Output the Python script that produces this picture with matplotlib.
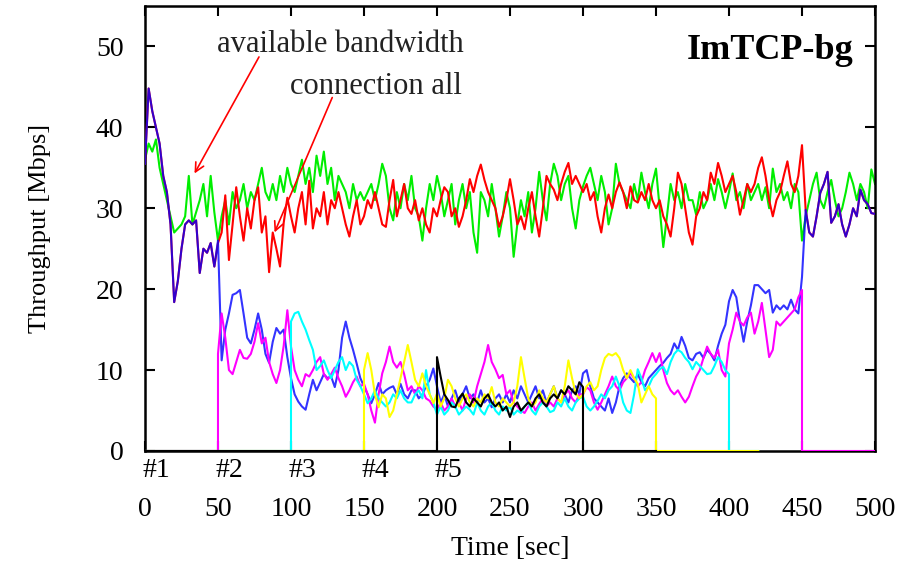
import numpy as np
import matplotlib
matplotlib.use("Agg")
import matplotlib.pyplot as plt
import matplotlib.transforms as mtransforms

plt.rcParams['font.family'] = ['Liberation Serif', 'DejaVu Serif']

STEP = 2.5

# available bandwidth, t = 0 .. 500
avail_bw = [
    36, 38, 37, 38.5, 35, 33, 31, 29, 27, 27.5, 28, 29, 34, 28, 29.5, 31, 33, 29, 34, 29.5,
    26, 29, 31, 28, 32, 30, 31, 33, 30, 32, 31, 33, 35, 32, 31, 33, 31, 34, 32, 35,
    33, 32, 34, 36, 33, 35, 32, 36.5, 34, 37, 33, 35, 31, 34, 33, 32, 30, 33, 31, 32,
    31, 32, 33, 31, 33, 35.5, 34, 30, 28.5, 32, 30, 33, 31, 34, 30, 29, 26, 30, 33, 31,
    34, 32, 29, 31, 33, 28, 31, 33, 30, 32, 27, 24.5, 32, 31, 29, 33, 30, 26.5, 29, 32,
    30, 24, 28, 31, 29, 32, 27, 30, 34.5, 31, 28.5, 33, 35.5, 34, 31, 33, 34, 30, 27.5, 31,
    32.7, 34, 35, 33, 31, 34, 32, 28, 30, 35.5, 33, 32, 31, 30, 33, 31, 34.4, 32, 30, 33,
    34.9, 30, 25.2, 29, 33, 31, 32, 30, 33, 31, 31, 29.2, 32, 30, 31, 33, 31, 33.6, 32, 30,
    32, 34.3, 31, 32, 30, 33, 31, 32, 33, 31, 32.6, 30, 34.9, 32, 33, 31, 32, 30, 33, 32,
    26, 29, 31, 33, 34.4, 31, 30, 32, 33.5, 31, 29, 30, 32, 34.4, 33, 31, 33, 32, 30, 34.8,
    33,
]

# connection all, t = 50 .. 450 (outside that range it equals flow #1)
conn_all = [
    25.7, 27, 31.6, 23.6, 28, 32.6, 29, 26, 30, 27.5, 31, 32.6, 27, 29, 22.1, 27, 25, 22.8, 28.2, 31.3,
    29, 27, 30, 32, 28, 33.4, 27.5, 30, 29, 32, 28, 31, 30, 32, 30, 28, 26.5, 29, 31, 28,
    29, 31, 30, 32, 30, 28, 27.7, 31, 33.5, 29, 31, 33, 30, 29.3, 31, 28.5, 30, 28, 27, 30,
    29, 31, 32.6, 32, 29, 30, 27.7, 29, 31, 33.6, 32, 34, 35.4, 33.5, 32, 31, 30, 27.7, 29, 31,
    33.6, 31, 28, 29, 27.4, 30, 32, 29, 26.5, 30, 34, 33, 32.3, 31, 33, 34.5, 35.6, 33, 34, 33,
    32, 33, 31, 32, 29, 27, 30, 31.7, 30, 32, 33.2, 32, 30, 32.7, 31, 30.7, 32, 31, 33, 31,
    30, 31, 29, 28, 26.5, 30, 34.4, 33, 30, 27, 25.5, 29, 30, 32, 31, 34.4, 33, 35.6, 34, 32,
    33, 34, 32, 29.2, 31, 33, 32, 33, 35, 36.3, 34, 31, 29, 31, 32, 34, 35.8, 33, 32, 34,
    37.8,
]

# flow #1, t = 0 .. 500
flow1 = [
    35.5, 44.8, 42, 40, 38, 34, 32, 28, 18.4, 21, 25, 28, 28.5, 28, 28.5, 22, 25, 24.5, 25.7, 22.8,
    26, 11.2, 15, 17, 19.3, 19.5, 19.9, 17, 14, 13.3, 15, 17, 15, 12, 10.9, 13.5, 15.2, 14.5, 15, 11.6,
    9, 7, 6.1, 5.5, 5.1, 7, 8.8, 7.5, 8.5, 9.5, 9, 9.2, 7.9, 10, 14, 16, 14, 12.5, 10.8, 9,
    8, 7, 5.9, 7, 8.4, 7, 7.5, 7.8, 8, 7, 8.3, 7, 6.5, 7.5, 7.5, 6.5, 7, 8, 8.8, 10.2,
    8, 6, 7, 5.5, 6.5, 7.5, 6, 7, 8, 6.5, 7, 6, 7.5, 6, 6.5, 5.4, 6.5, 7, 6, 7,
    6, 7.5, 6.5, 8, 7, 6, 7, 8, 6.5, 7.5, 6, 7, 8, 6.5, 7.5, 7, 6, 7.5, 8, 7,
    9.6, 10, 8, 6.5, 6, 5.5, 5, 6.5, 4.7, 6, 8, 9, 9.6, 9, 8.5, 9.5, 8.5, 8, 9, 9.5,
    10, 10.5, 10.9, 11.5, 12, 13.3, 12.5, 14.1, 13, 11.5, 11.2, 12, 12.2, 11.5, 12.5, 12, 11.2, 13, 14.5, 15.6,
    18.5, 19.9, 19, 16, 13.5, 16, 18, 20.5, 20.5, 20, 19.5, 19.9, 17.1, 18, 17.5, 18, 17.5, 18.7, 17.5, 17,
    21.5, 29.8, 27, 26.5, 29, 31.9, 33, 34.5, 28.2, 29, 30.5, 28, 26.5, 28, 30, 29, 32.3, 31, 30.5, 29.4,
    29.3,
]

# flow #2, t = 50 .. 450
flow2 = [
    12, 17, 14, 10, 9.5, 11, 12.5, 11.5, 11.4, 12, 13.5, 15.8, 13.3, 14, 11, 9.5, 8.4, 10, 13, 17.4,
    12.9, 10, 8.8, 8, 9.5, 9.2, 10, 11, 11.6, 9.5, 8.8, 9.5, 10.3, 9, 8, 6.7, 7.5, 8.5, 9.2, 8,
    8.3, 7, 5, 3.5, 7, 9.6, 11, 12.9, 11, 10.3, 11, 9.5, 7.5, 8, 7, 8, 7.5, 6.5, 6.2, 5.5,
    5.1, 6, 5, 5.5, 6.5, 5.5, 6, 5, 6.5, 7, 6, 8, 9.5, 11, 13.1, 11, 10.1, 9, 9.4, 7,
    7.5, 6, 5.5, 5, 4.7, 5.5, 6, 5, 5.8, 6.5, 5.5, 6, 5.5, 6.5, 6, 7, 7.5, 6.5, 6, 7,
    7, 7.9, 7.5, 6, 5.1, 6, 7, 8, 9.2, 8, 7.5, 8.5, 9, 9.6, 9, 8, 8.5, 10, 11, 12.1,
    11, 12.1, 10, 8.4, 7.5, 7, 7.5, 6.7, 6, 6.7, 8, 9.2, 10, 11.5, 12.9, 12, 11.5, 12.5, 10, 9.2,
    13.3, 15, 17.1, 16, 15.5, 16.5, 17.1, 14.5, 16, 18.3, 15, 11.6, 12.5, 16, 15.5, 16, 16.5, 17, 17.5, 19,
    19.9,
]

# flow #3, t = 100 .. 400
flow3 = [
    16, 17, 17.2, 16, 15, 13.7, 12.5, 10, 10.5, 11.2, 10, 9, 10, 11, 11.6, 10, 11, 10.5, 8.8, 8,
    7, 5.9, 6.5, 7.5, 6.5, 6, 5.5, 6, 7, 6.5, 7.5, 6.5, 6, 6, 7, 7.5, 6.5, 10, 7, 6,
    4.5, 5.5, 4.5, 5, 6, 5.5, 4.5, 5, 5.5, 5.1, 4.5, 6, 5, 4.5, 5.5, 6, 5, 4.5, 5.5, 5,
    5.5, 4.5, 5, 4.7, 5.5, 6, 5, 4.5, 5.5, 6, 5.5, 4.8, 5, 6, 5.5, 6.5, 5.5, 5, 6, 6.5,
    6.7, 5.5, 5, 5.5, 6.2, 7, 6.5, 7.5, 8, 9.2, 8, 6, 5, 4.7, 7, 10.1, 9, 7.5, 8, 9,
    9.5, 10.1, 10.4, 9.5, 11, 12, 12.5, 12.2, 11.5, 11, 10.1, 11, 10.5, 10, 9.5, 9.6, 10.5, 11.6, 11, 10,
    9.5,
]

# flow #4, t = 150 .. 350
flow4 = [
    10, 12.1, 10, 7, 5.4, 7, 6.5, 4.2, 5, 7, 9, 11, 13.1, 11, 8.8, 8, 9.6, 8, 7, 5.9,
    7.1, 5.5, 6.5, 8.8, 8, 6.5, 5.5, 6.5, 7, 6, 5.5, 6.5, 6, 7, 6.5, 7.9, 6, 5.5, 6.5, 6,
    5.5, 6, 8, 11.6, 9, 6.5, 5.5, 6, 7.5, 6.5, 6, 7, 8, 6.5, 6, 8, 11.2, 9, 7.1, 6.5,
    7, 8, 8.5, 7.5, 8, 10, 11.5, 12, 11.8, 12.1, 11.5, 10, 9, 10, 9, 8.3, 6, 7, 8, 7,
    6.5,
]

# flow #5, t = 200 .. 300
flow5 = [
    11.6, 9.2, 7, 6.3, 5.5, 5.4, 6.5, 7.1, 6, 5.5, 6.5, 6, 5.5, 6.5, 7, 6, 5.5, 6, 5, 5.5,
    4.2, 5.5, 6, 5, 5.5, 6, 5.5, 6.5, 7, 6, 5.5, 6.5, 7, 6.5, 7.5, 7, 8, 7.5, 7, 8.5,
    7.9,
]

# (start, end, zero-before-from, zero-after-until) in seconds
flow_spans = {
    'flow2': (50, 450, 0, 500),
    'flow3': (100, 400, 0, 420),
    'flow4': (150, 350, 0, 420),
    'flow5': (200, 300, 0, 350),
}

x_ticks = list(range(0, 501, 50))
y_ticks = list(range(0, 51, 10))
start_labels = ['#1', '#2', '#3', '#4', '#5']
start_times = [0, 50, 100, 150, 200]


def tgrid(start, n):
    return start + STEP * np.arange(n)


fig = plt.figure(figsize=(9.09, 5.69), dpi=100)
ax = fig.add_axes([0.1595, 0.2074, 0.8031, 0.7821])

lw = 1.5
t_full = tgrid(0, len(avail_bw))
ax.plot(t_full, avail_bw, color='#00ee00', lw=lw, zorder=2)

f1 = np.array(flow1)
all_full = np.concatenate([f1[:20], conn_all, f1[20 + len(conn_all):]])
ax.plot(t_full, all_full, color='#ff0000', lw=lw, zorder=3)
ax.plot(t_full, f1, color='#0000ff', lw=lw, alpha=0.8, zorder=4)

colors = {'flow2': '#ff00ff', 'flow3': '#00ffff', 'flow4': '#ffff00', 'flow5': '#000000'}
datas = {'flow2': flow2, 'flow3': flow3, 'flow4': flow4, 'flow5': flow5}
for z, key in enumerate(['flow2', 'flow3', 'flow4', 'flow5']):
    s, e, z0, z1 = flow_spans[key]
    vals = np.array(datas[key], dtype=float)
    tt = tgrid(s, len(vals))
    xs = np.concatenate([[z0, s], tt, [e, z1]])
    ys = np.concatenate([[0, 0], vals, [0, 0]])
    ax.plot(xs, ys, color=colors[key], lw=lw, zorder=5 + z)

ax.set_xlim(0, 500)
ax.set_ylim(0, 55)
ax.set_xticks(x_ticks)
ax.set_yticks(y_ticks)
ax.tick_params(axis='both', direction='in', length=7, width=1.5,
               top=True, right=True, labelsize=20)
ax.tick_params(axis='x', pad=33)
ax.tick_params(axis='y', pad=15.5)
for sp in ax.spines.values():
    sp.set_linewidth(1.8)

ax.set_xlabel('Time [sec]', fontsize=20, va='center')
ax.xaxis.set_label_coords(0.5, -0.22)
ax.set_ylabel('Throughput [Mbps]', fontsize=19, va='center')
ax.yaxis.set_label_coords(-0.1438, 0.5)

trans = mtransforms.blended_transform_factory(ax.transData, ax.transAxes)
for lab, st in zip(start_labels, start_times):
    ax.text(st - 2, -0.043, lab, transform=trans, ha='left', va='center', fontsize=20)

ax.text(485, 49.5, 'ImTCP-bg', ha='right', va='center', fontsize=26, fontweight='bold')

ax.text(133.6, 50.2, 'available bandwidth', ha='center', va='center', fontsize=22,
        color='#222222')
ax.text(158, 45, 'connection all', ha='center', va='center', fontsize=22, color='#222222')

ax.annotate('', xy=(33, 34), xytext=(79, 49),
            arrowprops=dict(arrowstyle='->', color='#ff0000', lw=1.2, mutation_scale=16))
ax.annotate('', xy=(88, 26.7), xytext=(129, 44),
            arrowprops=dict(arrowstyle='->', color='#ff0000', lw=1.2, mutation_scale=16))

fig.savefig('out.png', dpi=100)
